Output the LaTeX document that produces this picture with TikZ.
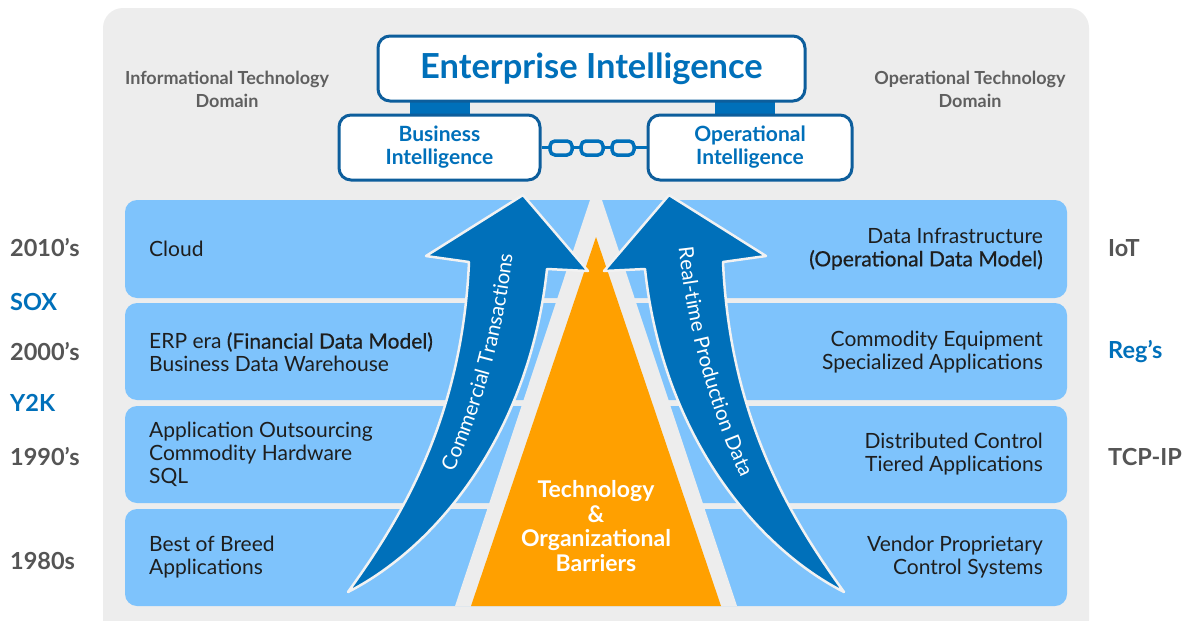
\documentclass[tikz,border=0pt]{standalone}
\usepackage{fontspec}
\setmainfont{Lato}
\newfontfamily\latomed{Lato}[FakeBold=0.6]
\usetikzlibrary{decorations.text}
\definecolor{panel}{HTML}{EDEDED}
\definecolor{rowblue}{HTML}{7EC3FC}
\definecolor{darkblue}{HTML}{0070BA}
\definecolor{borderblue}{HTML}{0D5E9C}
\definecolor{barorange}{HTML}{FFA000}
\definecolor{labelgray}{HTML}{555555}
\definecolor{textdark}{HTML}{1E1E1E}
\definecolor{domgray}{HTML}{5F5F5F}
\definecolor{edgewhite}{HTML}{F2F2F2}
\begin{document}
\begin{tikzpicture}[x=1pt,y=-1pt,
  rowtext/.style={font=\fontsize{21}{23}\selectfont, text=textdark, inner sep=0pt},
  leftrow/.style={rowtext, anchor=west, align=left},
  rightrow/.style={rowtext, anchor=east, align=right},
  yearlabel/.style={font=\bfseries\fontsize{23.5}{26}\selectfont, text=labelgray, anchor=west, inner sep=0pt},
  eventlabel/.style={yearlabel, text=darkblue},
  domainlabel/.style={font=\bfseries\fontsize{18}{23}\selectfont, text=domgray, align=center, inner sep=0pt},
  ibox/.style={draw=borderblue, line width=3pt, fill=white, rounded corners=12pt, text=darkblue, align=center, inner sep=0pt},
  chainlink/.style={draw=darkblue, line width=3.5pt, fill=panel, rounded corners=5pt, minimum width=22pt, minimum height=14pt, inner sep=0pt},
  rowbox/.style={fill=rowblue, rounded corners=12pt},
  bigarrow/.style={fill=darkblue, draw=edgewhite, line width=2.5pt, line join=round},
  arrowtext/.style={decorate, decoration={text along path, text align=center, text color=white}}
]
\useasboundingbox (0,0) rectangle (1186,621);
\fill[white] (0,0) rectangle (1186,621);
% panel
\fill[panel, rounded corners=20pt] (103,8) rectangle (1089,640);
% rows
\fill[rowbox] (125,200) rectangle (1067,298);
\fill[rowbox] (125,303) rectangle (1067,400);
\fill[rowbox] (125,406) rectangle (1067,503);
\fill[rowbox] (125,509) rectangle (1067,606);
% barrier triangle
\fill[panel] (455,606) -- (596,182) -- (737,606) -- cycle;
\fill[barorange] (471,606) -- (596,237) -- (721,606) -- cycle;
% arrows
\filldraw[bigarrow] (348,592) .. controls (400,520) and (462,420) .. (469,262)
   -- (426,256) -- (523,195) -- (588,271) -- (547,269)
   .. controls (530,430) and (440,545) .. (348,592) -- cycle;
\begin{scope}[shift={(1192,0)}, xscale=-1]
\filldraw[bigarrow] (348,592) .. controls (400,520) and (462,420) .. (469,262)
   -- (426,256) -- (523,195) -- (588,271) -- (547,269)
   .. controls (530,430) and (440,545) .. (348,592) -- cycle;
\end{scope}
\path[arrowtext, decoration={text={|\fontsize{20.5}{20.5}\selectfont|Commercial Transactions}}]
  (425,530) .. controls (480,430) and (512,320) .. (518,190);
\path[arrowtext, decoration={text={|\fontsize{20.5}{20.5}\selectfont|Real-time Production Data}}]
  (674,190) .. controls (680,320) and (712,430) .. (767,530);
% barrier text
\node[font=\bfseries\fontsize{23}{24.5}\selectfont, text=white, align=center, inner sep=0pt] (barrier) at (596,526)
  {Technology\\\&\\Organizational\\Barriers};
% row texts left
\node[leftrow] (l1) at (149,249) {Cloud};
\node[leftrow] (l2) at (149,352) {ERP era {\latomed (Financial Data Model)}\\Business Data Warehouse};
\node[leftrow] (l3) at (149,454) {Application Outsourcing\\Commodity Hardware\\SQL};
\node[leftrow] (l4) at (149,557) {Best of Breed\\Applications};
% row texts right
\node[rightrow] (r1) at (1043,249) {Data Infrastructure\\{\latomed (Operational Data Model)}};
\node[rightrow] (r2) at (1043,352) {Commodity Equipment\\Specialized Applications};
\node[rightrow] (r3) at (1043,454) {Distributed Control\\Tiered Applications};
\node[rightrow] (r4) at (1043,557) {Vendor Proprietary\\Control Systems};
% year labels
\node[yearlabel] (y2010) at (10,248) {2010’s};
\node[eventlabel] (sox) at (10,302) {SOX};
\node[yearlabel] (y2000) at (10,352) {2000’s};
\node[eventlabel] (y2k) at (10,403) {Y2K};
\node[yearlabel] (y1990) at (10,457) {1990’s};
\node[yearlabel] (y1980) at (10,561) {1980s};
\node[yearlabel] (iot) at (1108,248) {IoT};
\node[eventlabel] (regs) at (1108,352) {Reg’s};
\node[yearlabel] (tcpip) at (1108,457) {TCP-IP};
% domain labels
\node[domainlabel] (itd) at (227,89.5) {Informational Technology\\Domain};
\node[domainlabel] (otd) at (970,89.5) {Operational Technology\\Domain};
% intelligence boxes
\fill[darkblue] (410,95) rectangle (470,120);
\fill[darkblue] (715,95) rectangle (775,120);
\node[ibox, minimum width=427pt, minimum height=65pt, font=\bfseries\fontsize{34.5}{34.5}\selectfont] (ei) at (591.5,68.5) {Enterprise Intelligence};
\node[ibox, minimum width=201pt, minimum height=65pt, font=\bfseries\fontsize{21}{23}\selectfont] (bi) at (439.5,147.5) {Business\\Intelligence};
\node[ibox, minimum width=204pt, minimum height=65pt, font=\bfseries\fontsize{21}{23}\selectfont] (oi) at (750,147.5) {Operational\\Intelligence};
% chain
\draw[darkblue, line width=3.5pt] (bi.east) -- (oi.west);
\node[chainlink] (k1) at (561,148) {};
\node[chainlink] (k2) at (592,148) {};
\node[chainlink] (k3) at (623,148) {};
\end{tikzpicture}
\end{document}
